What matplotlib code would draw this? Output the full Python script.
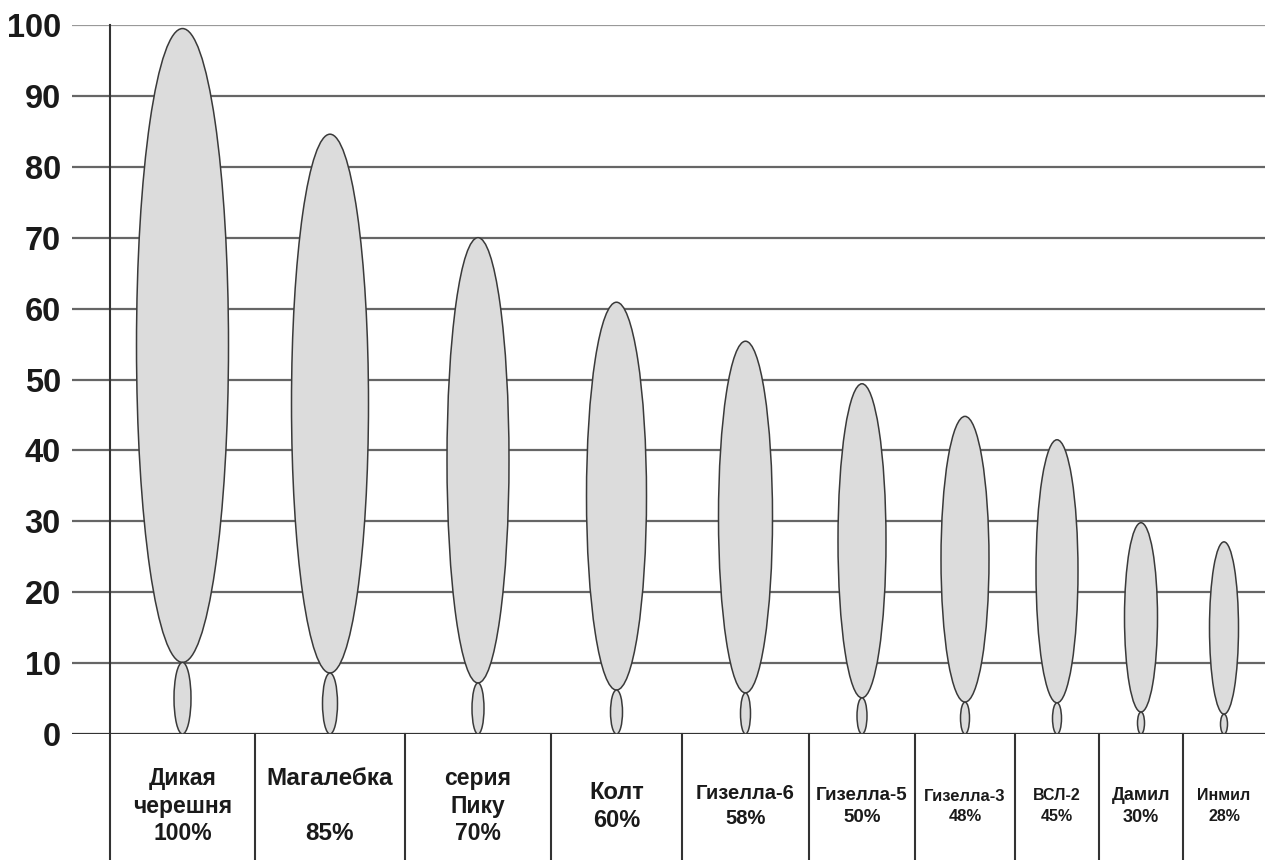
import matplotlib
matplotlib.use("Agg")
import matplotlib.pyplot as plt
from matplotlib.patches import Ellipse

plt.rcParams['font.family'] = ['Liberation Sans', 'DejaVu Sans']

# Rootstocks: crown (big ellipse) and root part (small ellipse), height on 0-100 scale
labels = ["Дикая\nчерешня\n100%", "Магалебка\n\n85%", "серия\nПику\n70%", "Колт\n60%",
          "Гизелла-6\n58%", "Гизелла-5\n50%", "Гизелла-3\n48%", "ВСЛ-2\n45%",
          "Дамил\n30%", "Инмил\n28%"]
crown_top = [99.5, 84.6, 70.0, 60.9, 55.4, 49.4, 44.8, 41.5, 29.8, 27.1]
root_top = [10.1, 8.6, 7.2, 6.2, 5.8, 5.1, 4.5, 4.4, 3.1, 2.8]
crown_width = [92, 77, 62, 60, 54, 48, 48, 42, 33, 29]
root_width = [17, 15, 12, 12, 10, 10, 9, 9, 7, 7]
y_ticks = list(range(0, 101, 10))

# layout of the table under the chart (pixel columns)
col_edges = [110, 255, 405, 551, 682, 809, 915, 1015, 1099, 1183, 1265]
label_size = [16.5, 17.5, 16.5, 17, 14.5, 13.5, 12, 11.5, 13, 11.5]
label_spacing = [1.25, 1.25, 1.25, 1.25, 1.4, 1.4, 1.45, 1.5, 1.4, 1.5]

W, H = 1265, 860
fig = plt.figure(figsize=(W / 100, H / 100), dpi=100)
ax = fig.add_axes([72 / W, 126 / H, (W - 72) / W, 709 / H])
ax.set_xlim(72, W)
ax.set_ylim(0, 100)
for s in ax.spines.values():
    s.set_visible(False)

ax.set_xticks([])
ax.set_yticks(y_ticks)
ax.tick_params(axis='y', length=0, pad=8, labelsize=23.5, labelcolor='#1a1a1a')
for t in ax.get_yticklabels():
    t.set_fontweight('bold')
ax.set_axisbelow(True)
ax.grid(axis='y', color='#666666', lw=1.6)
ax.get_ygridlines()[-1].set_color('#999999')

# table frame
bottom = -126 / 7.09
ax.axhline(0, color='#333333', lw=2.2, zorder=3)
ax.plot([col_edges[0]] * 2, [100, bottom], color='#333333', lw=1.5, clip_on=False, zorder=3)
for e in col_edges[1:-1]:
    ax.plot([e, e], [0, bottom], color='#333333', lw=1.5, clip_on=False, zorder=3)

for i, lab in enumerate(labels):
    xc = (col_edges[i] + col_edges[i + 1]) / 2
    crown = Ellipse((xc, (crown_top[i] + root_top[i]) / 2), crown_width[i],
                    crown_top[i] - root_top[i], fc='#dcdcdc', ec='#3a3a3a', lw=1.1, zorder=4)
    root = Ellipse((xc, root_top[i] / 2), root_width[i], root_top[i],
                   fc='#dcdcdc', ec='#3a3a3a', lw=1.1, zorder=4)
    ax.add_patch(crown)
    ax.add_patch(root)
    ax.text(xc, -10.2, lab, ha='center', va='center', fontsize=label_size[i],
            fontweight='bold', linespacing=label_spacing[i], color='#1a1a1a', clip_on=False)

fig.savefig('out.png', dpi=100)
